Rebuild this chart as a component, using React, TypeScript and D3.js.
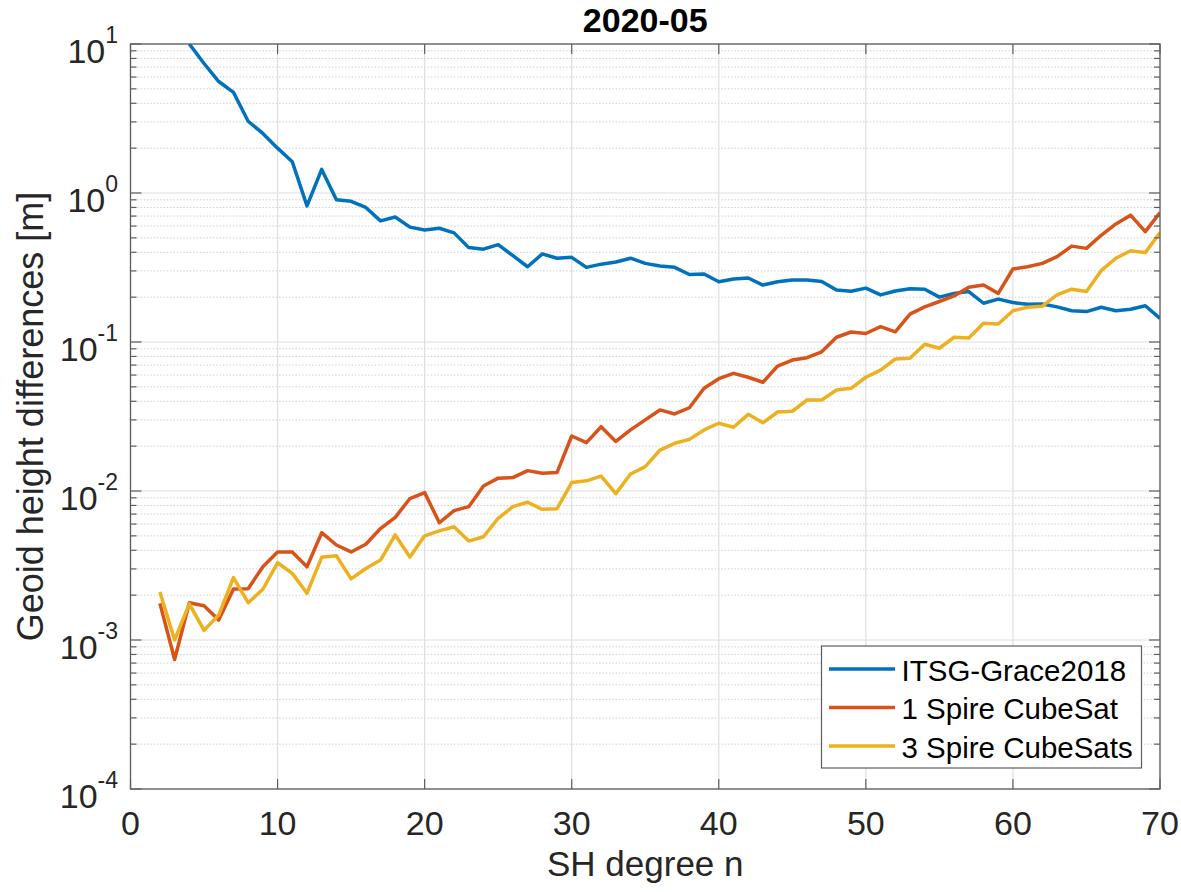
import * as d3 from "d3";

// SH degrees
const degrees = [
  2, 3, 4, 5, 6, 7, 8, 9, 10, 11, 12, 13, 14, 15, 16, 17, 18, 19, 20, 21, 22, 23, 24, 25, 26, 27, 28, 29, 30,
  31, 32, 33, 34, 35, 36, 37, 38, 39, 40, 41, 42, 43, 44, 45, 46, 47, 48, 49, 50, 51, 52, 53, 54, 55, 56, 57,
  58, 59, 60, 61, 62, 63, 64, 65, 66, 67, 68, 69, 70,
];

// ITSG-Grace2018 (starts at degree 4)
const itsgGrace = [
  null, null, 10.0, 7.4, 5.6, 4.74, 3.03, 2.51, 2.0, 1.62, 0.82, 1.44, 0.9, 0.88, 0.8, 0.65, 0.69, 0.59, 0.565,
  0.58, 0.54, 0.43, 0.42, 0.45, 0.38, 0.32, 0.39, 0.365, 0.37, 0.317, 0.333, 0.344, 0.365, 0.337, 0.324, 0.317,
  0.284, 0.286, 0.254, 0.265, 0.269, 0.241, 0.254, 0.261, 0.261, 0.255, 0.223, 0.219, 0.23, 0.207, 0.22, 0.228,
  0.226, 0.2, 0.212, 0.218, 0.182, 0.194, 0.184, 0.179, 0.18, 0.172, 0.162, 0.16, 0.171, 0.162, 0.166, 0.175,
  0.144,
];

const oneSpire = [
  0.00176, 0.00074, 0.00178, 0.0017, 0.00136, 0.0022, 0.00221, 0.0031, 0.0039, 0.0039, 0.0031, 0.00525, 0.00434,
  0.0039, 0.00439, 0.0056, 0.00666, 0.0089, 0.00975, 0.00612, 0.00738, 0.00785, 0.0108, 0.0122, 0.0123, 0.0137,
  0.01315, 0.0133, 0.0234, 0.0211, 0.027, 0.0215, 0.0257, 0.03, 0.035, 0.0329, 0.0362, 0.0489, 0.0567, 0.0616,
  0.058, 0.0537, 0.069, 0.0757, 0.0785, 0.086, 0.1076, 0.1167, 0.114, 0.1267, 0.117, 0.154, 0.172, 0.187, 0.204,
  0.233, 0.241, 0.212, 0.309, 0.32, 0.337, 0.374, 0.44, 0.425, 0.52, 0.62, 0.71, 0.55, 0.738,
];

const threeSpire = [
  0.0021, 0.001, 0.00175, 0.00116, 0.00147, 0.00262, 0.00178, 0.00219, 0.0033, 0.0028, 0.00206, 0.00359,
  0.00368, 0.00257, 0.00302, 0.00344, 0.00507, 0.0036, 0.005, 0.0054, 0.00576, 0.00461, 0.00493, 0.00656,
  0.00785, 0.0084, 0.00753, 0.0076, 0.0114, 0.0117, 0.0126, 0.0096, 0.013, 0.01456, 0.0188, 0.0209, 0.0222,
  0.0257, 0.0285, 0.0268, 0.0327, 0.0287, 0.0339, 0.0343, 0.0408, 0.0408, 0.0476, 0.0489, 0.058, 0.0648, 0.0769,
  0.0777, 0.0965, 0.0908, 0.1076, 0.1065, 0.1336, 0.132, 0.162, 0.171, 0.174, 0.207, 0.226, 0.218, 0.301, 0.365,
  0.41, 0.398, 0.542,
];

const seriesNames = ["ITSG-Grace2018", "1 Spire CubeSat", "3 Spire CubeSats"];
const seriesColors = ["#0072BD", "#D95319", "#EDB120"];
const xTicks = [0, 10, 20, 30, 40, 50, 60, 70];
const yExponents = [1, 0, -1, -2, -3, -4];

const W = 1181;
const H = 892;
const margin = { left: 130.5, top: 44, right: 21, bottom: 103 };
const font = "'Liberation Sans', Arial, Helvetica, sans-serif";
const textColor = "#262626";
const axisColor = "#5e5e5e";

export default function App() {
  const x = d3.scaleLinear().domain([0, 70]).range([margin.left, W - margin.right]);
  const y = d3.scaleLog().domain([1e-4, 10]).range([H - margin.bottom, margin.top]);
  const [x0, x1] = x.range();
  const [y0, y1] = y.range();

  const series = [itsgGrace, oneSpire, threeSpire];
  const line = d3
    .line<number>()
    .defined((_, i, arr) => (arr as any)[i] != null)
    .x((_, i) => x(degrees[i]))
    .y((d) => y(d as number));

  const minorVals: number[] = [];
  for (let e = -4; e < 1; e++) {
    for (let m = 2; m <= 9; m++) minorVals.push(m * Math.pow(10, e));
  }

  return (
    <svg
      width={W}
      height={H}
      style={{ position: "absolute", left: 0, top: 0, background: "#fff" }}
      fontFamily={font}
    >
      <defs>
        <clipPath id="plotClip">
          <rect x={x0} y={y1} width={x1 - x0} height={y0 - y1} />
        </clipPath>
      </defs>
      <rect x={x0} y={y1} width={x1 - x0} height={y0 - y1} fill="#fff" />

      {/* minor grid */}
      {minorVals.map((v, i) => (
        <line key={"mg" + i} x1={x0} x2={x1} y1={y(v)} y2={y(v)} stroke="#cfcfcf" strokeWidth={1} strokeDasharray="1.5 1.8" />
      ))}
      {/* major grid */}
      {yExponents.map((e) => (
        <line key={"yg" + e} x1={x0} x2={x1} y1={y(Math.pow(10, e))} y2={y(Math.pow(10, e))} stroke="#dedede" strokeWidth={1.2} />
      ))}
      {xTicks.map((t) => (
        <line key={"xg" + t} x1={x(t)} x2={x(t)} y1={y0} y2={y1} stroke="#dedede" strokeWidth={1.2} />
      ))}

      {/* lines */}
      <g clipPath="url(#plotClip)">
        {series.map((s, i) => (
          <path
            key={seriesNames[i]}
            d={line(s as number[]) || ""}
            fill="none"
            stroke={seriesColors[i]}
            strokeWidth={3.5}
            strokeLinejoin="round"
          />
        ))}
      </g>

      {/* ticks */}
      {xTicks.map((t) => (
        <g key={"xt" + t}>
          <line x1={x(t)} x2={x(t)} y1={y0} y2={y0 - 10} stroke={axisColor} strokeWidth={1.2} />
          <line x1={x(t)} x2={x(t)} y1={y1} y2={y1 + 10} stroke={axisColor} strokeWidth={1.2} />
        </g>
      ))}
      {yExponents.map((e) => (
        <g key={"yt" + e}>
          <line x1={x0} x2={x0 + 11} y1={y(Math.pow(10, e))} y2={y(Math.pow(10, e))} stroke={axisColor} strokeWidth={1.2} />
          <line x1={x1} x2={x1 - 11} y1={y(Math.pow(10, e))} y2={y(Math.pow(10, e))} stroke={axisColor} strokeWidth={1.2} />
        </g>
      ))}
      {minorVals.map((v, i) => (
        <g key={"mt" + i}>
          <line x1={x0} x2={x0 + 6} y1={y(v)} y2={y(v)} stroke={axisColor} strokeWidth={1.2} />
          <line x1={x1} x2={x1 - 6} y1={y(v)} y2={y(v)} stroke={axisColor} strokeWidth={1.2} />
        </g>
      ))}

      {/* box */}
      <rect x={x0} y={y1} width={x1 - x0} height={y0 - y1} fill="none" stroke={axisColor} strokeWidth={1.3} />

      {/* tick labels */}
      {xTicks.map((t) => (
        <text key={"xl" + t} x={x(t)} y={835} textAnchor="middle" fontSize={34} fill={textColor}>
          {t}
        </text>
      ))}
      {yExponents.map((e) => (
        <text key={"yl" + e} x={118} y={y(Math.pow(10, e)) + 19} textAnchor="end" fontSize={34} fill={textColor}>
          10
          <tspan dy={-20} fontSize={23}>
            {e < 0 ? "-" + Math.abs(e) : String(e)}
          </tspan>
        </text>
      ))}

      {/* title and axis labels */}
      <text x={(x0 + x1) / 2} y={32} textAnchor="middle" fontSize={34} fontWeight="bold" fill="#000">
        2020-05
      </text>
      <text x={(x0 + x1) / 2} y={876} textAnchor="middle" fontSize={35} fill={textColor}>
        SH degree n
      </text>
      <text
        transform={`translate(43,${(y0 + y1) / 2}) rotate(-90)`}
        textAnchor="middle"
        fontSize={36}
        fill={textColor}
      >
        Geoid height differences [m]
      </text>

      {/* legend */}
      <g>
        <rect x={821.5} y={646} width={320} height={122} fill="#fff" stroke={axisColor} strokeWidth={1.2} />
        {seriesNames.map((name, i) => {
          const cy = 669 + i * 38.5;
          return (
            <g key={"lg" + name}>
              <line x1={829} x2={895} y1={cy} y2={cy} stroke={seriesColors[i]} strokeWidth={3.5} />
              <text x={901.5} y={cy + 11.5} fontSize={29.5} fill="#000">
                {name}
              </text>
            </g>
          );
        })}
      </g>
    </svg>
  );
}
